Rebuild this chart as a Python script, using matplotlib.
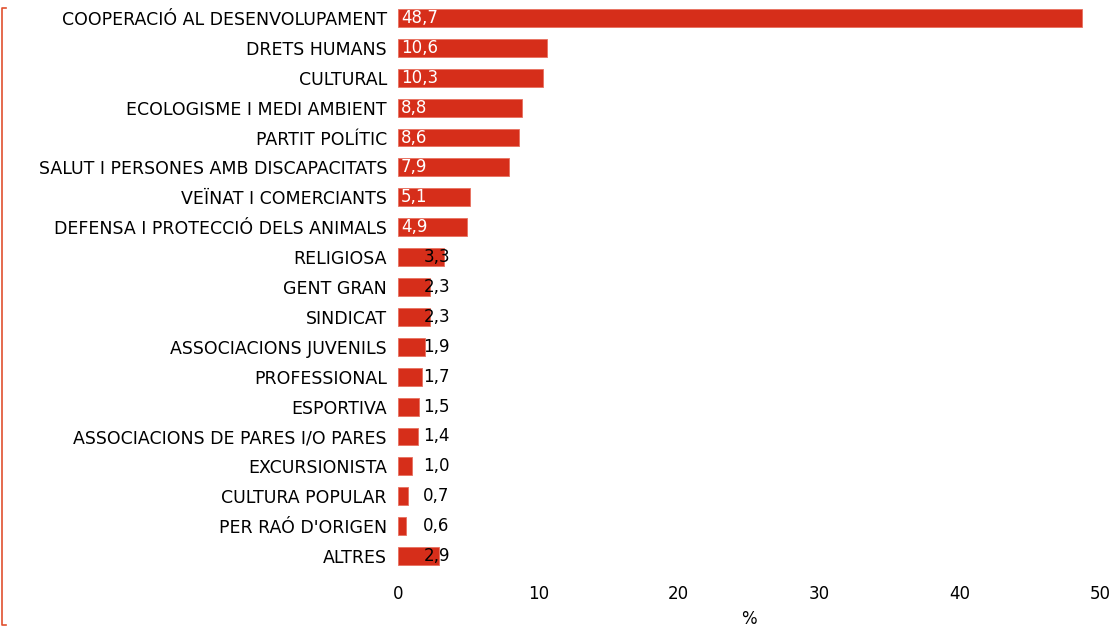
import numpy as np
import matplotlib.pyplot as plt
from matplotlib.lines import Line2D

plt.rcParams['font.family'] = ['DejaVu Sans']

categories = [
    "COOPERACIÓ AL DESENVOLUPAMENT", "DRETS HUMANS", "CULTURAL",
    "ECOLOGISME I MEDI AMBIENT", "PARTIT POLÍTIC",
    "SALUT I PERSONES AMB DISCAPACITATS", "VEÏNAT I COMERCIANTS",
    "DEFENSA I PROTECCIÓ DELS ANIMALS", "RELIGIOSA", "GENT GRAN", "SINDICAT",
    "ASSOCIACIONS JUVENILS", "PROFESSIONAL", "ESPORTIVA",
    "ASSOCIACIONS DE PARES I/O PARES", "EXCURSIONISTA", "CULTURA POPULAR",
    "PER RAÓ D'ORIGEN", "ALTRES",
]
values = [48.7, 10.6, 10.3, 8.8, 8.6, 7.9, 5.1, 4.9, 3.3, 2.3, 2.3,
          1.9, 1.7, 1.5, 1.4, 1.0, 0.7, 0.6, 2.9]
xticks = [0, 10, 20, 30, 40, 50]

red = '#D62E1A'
fs = 12.5

fig = plt.figure(figsize=(11.13, 6.31), dpi=100)
ax = fig.add_axes([398 / 1113, 1 - 571 / 631, 702 / 1113, 568 / 631])

y = np.arange(len(categories))
ax.barh(y, values, height=0.6, color=red, edgecolor='#E8705F', linewidth=0.6)
ax.set_ylim(len(categories) - 0.5, -0.5)
ax.set_xlim(0, 50)

ax.set_yticks(y)
ax.set_yticklabels(categories, fontsize=fs)
ax.set_xticks(xticks)
ax.set_xticklabels([str(t) for t in xticks], fontsize=fs - 0.5)
ax.tick_params(axis='both', length=0)
ax.tick_params(axis='y', pad=8)
ax.tick_params(axis='x', pad=10)
for s in ax.spines.values():
    s.set_visible(False)
ax.set_xlabel('%', fontsize=fs - 0.5, labelpad=5)

# value labels
for yi, v in zip(y, values):
    txt = f"{v:.1f}".replace('.', ',')
    if v >= 4.5:
        ax.text(0.2, yi, txt, color='white', fontsize=fs - 0.5, va='center', ha='left')
    else:
        ax.text(1.8, yi, txt, color='black', fontsize=fs - 0.5, va='center', ha='left')

# red bracket on the left edge
W, H = 1113, 631
def px(x, yv):
    return x / W, 1 - yv / H
x0, y0 = px(2, 8)
x1, y1 = px(2, 625)
xt, _ = px(6, 0)
fig.add_artist(Line2D([xt, x0, x1, xt], [y0, y0, y1, y1],
                      transform=fig.transFigure, color='#E0502F', linewidth=1.2))

fig.savefig('out.png', dpi=100)
